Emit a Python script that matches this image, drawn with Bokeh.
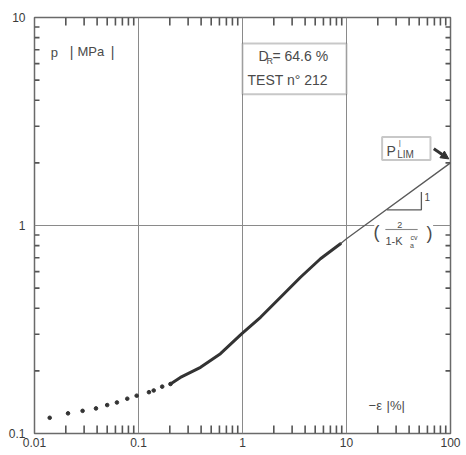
import math
from bokeh.plotting import figure
from bokeh.models import (LogAxis, FixedTicker, CustomJSTickFormatter, Label,
                          BoxAnnotation, Arrow, NormalHead, Range1d)
from bokeh.embed import file_html
from bokeh.resources import INLINE

# ---------------- data ----------------
# measured points (dotted part, small strains)
dot_strain = [0.014, 0.021, 0.029, 0.039, 0.050, 0.062, 0.078, 0.096,
              0.126, 0.140, 0.169, 0.203]
dot_pressure = [0.119, 0.125, 0.1285, 0.132, 0.137, 0.141, 0.147, 0.152,
                0.158, 0.161, 0.168, 0.173]
# continuous measured curve (thick)
curve_strain = [0.203, 0.253, 0.395, 0.614, 0.98, 1.49, 2.32, 3.61, 5.62, 8.75]
curve_pressure = [0.173, 0.186, 0.208, 0.242, 0.301, 0.362, 0.452, 0.564, 0.692, 0.817]
# straight-line extrapolation towards p'_LIM (thin)
limit_strain = [8.75, 10.0, 100.0]
limit_pressure = [0.817, 0.863, 2.0]

x_major = [0.01, 0.1, 1, 10, 100]
y_major = [0.1, 1, 10]
x_minor = [m * 10.0 ** k for k in range(-2, 2) for m in range(2, 10)]
y_minor = [m * 10.0 ** k for k in range(-1, 1) for m in range(2, 10)]

FONT = "Liberation Sans"
TXT = "#4a4a4a"
LINE = "#5a5a5a"
TICK = "#555555"

FRAME_W, FRAME_H = 416, 416
p = figure(width=464, height=452, x_axis_type="log", y_axis_type="log",
           x_range=Range1d(0.01, 100), y_range=Range1d(0.1, 10),
           output_backend="svg", toolbar_location=None,
           min_border_left=34, min_border_right=14, min_border_top=17,
           min_border_bottom=19, background_fill_color="white",
           border_fill_color="white")
p.outline_line_color = "#6a6a6a"
p.outline_line_width = 1.5


# ---------------- axes ----------------
def style(ax, ticks, labels):
    ax.ticker = FixedTicker(ticks=ticks)
    ax.axis_line_color = None
    ax.major_tick_in = 0
    ax.major_tick_out = 0
    ax.minor_tick_in = 0
    ax.minor_tick_out = 0
    if labels:
        ax.formatter = CustomJSTickFormatter(code="return tick.toString();")
        ax.major_label_text_font = FONT
        ax.major_label_text_font_size = "12px"
        ax.major_label_text_color = "#3a3a3a"
    else:
        ax.formatter = CustomJSTickFormatter(code="return '';")
        ax.major_label_text_font_size = "0px"
        ax.major_label_standoff = 0


style(p.xaxis[0], x_major, True)
p.xaxis[0].major_label_standoff = 4
style(p.yaxis[0], y_major, True)
p.yaxis[0].major_label_standoff = 9

top = LogAxis()
style(top, x_major, False)
p.add_layout(top, "above")
right = LogAxis()
style(right, y_major, False)
p.add_layout(right, "right")

p.xgrid.ticker = FixedTicker(ticks=x_major)
p.ygrid.ticker = FixedTicker(ticks=y_major)
p.xgrid.grid_line_color = "#8a8a8a"
p.ygrid.grid_line_color = "#8a8a8a"
p.xgrid.grid_line_width = 1
p.ygrid.grid_line_width = 1

# inward minor ticks drawn as dash markers centred just inside the frame
V_LEN, H_LEN = 8, 5                          # tick lengths in px
cy = 10 ** ((V_LEN / 2) / (FRAME_H / 2))     # half-length as log factor
cx = 10 ** ((H_LEN / 2) / (FRAME_W / 4))
tick_x = x_minor + x_minor + [0.01 * cx] * len(y_minor) + [100.0 / cx] * len(y_minor)
tick_y = ([0.1 * cy] * len(x_minor) + [10.0 / cy] * len(x_minor)
          + y_minor + y_minor)
tick_size = [V_LEN] * (2 * len(x_minor)) + [H_LEN] * (2 * len(y_minor))
tick_angle = [math.pi / 2] * (2 * len(x_minor)) + [0.0] * (2 * len(y_minor))
p.scatter(x=tick_x, y=tick_y, size=tick_size, angle=tick_angle, marker="dash",
          line_color=TICK, line_width=1.6)

# ---------------- data marks ----------------
p.scatter(x=dot_strain, y=dot_pressure, marker="circle", size=3.6,
          fill_color="#333333", line_color="#333333")
p.line(x=curve_strain, y=curve_pressure, line_width=3, line_color="#333333",
       line_cap="round")
p.line(x=limit_strain, y=limit_pressure, line_width=1.3, line_color=LINE)

# slope triangle under the extrapolation line
tri_x = [24.5, 52.5, 52.5]
tri_y = [1.19, 1.19, 1.45]
p.line(x=tri_x, y=tri_y, line_width=1.3, line_color=LINE)


def lab(x, y, text, size, align="left", base="middle", color=TXT, font=FONT):
    p.add_layout(Label(x=x, y=y, text=text, text_font=font,
                       text_font_size=size, text_color=color,
                       text_align=align, text_baseline=base))


lab(59.7, 1.365, "1", "10px", "center")

# fraction label with white background
p.add_layout(BoxAnnotation(left=18.5, right=68, bottom=0.775, top=1.02,
                           fill_color="white", fill_alpha=1, line_color=None))
lab(19.4, 0.929, "(", "18px", "center")
lab(32.5, 1.011, "2", "9px", "center")
p.add_layout(BoxAnnotation(left=23.7, right=48.2, bottom=0.955, top=0.9585,
                           fill_color=TXT, fill_alpha=1, line_color=TXT,
                           line_width=0.6))
lab(23.7, 0.847, "1-K", "11px")
lab(42.7, 0.797, "a", "7px", "center")
lab(41.2, 0.871, "cv", "7px")
lab(62.8, 0.925, ")", "18px", "center")

# D_R box
p.add_layout(BoxAnnotation(left=1, right=10, bottom=4.27, top=7.5,
                           fill_color="white", fill_alpha=1,
                           line_color="#4a4a4a", line_width=2))
lab(1.426, 6.56, "D", "14px")
lab(1.70, 6.21, "R", "9px")
lab(1.94, 6.56, "= 64.6 %", "14px")
lab(1.117, 5.03, "TEST n° 212", "14px")

# p'_LIM box and arrow
p.add_layout(BoxAnnotation(left=22.0, right=64.2, bottom=2.065, top=2.665,
                           fill_color="white", fill_alpha=1,
                           line_color="#4a4a4a", line_width=2))
lab(24.3, 2.28, "P", "14px")
lab(30.7, 2.20, "LIM", "10px")
lab(32.6, 2.51, "|", "8px", "center")
p.add_layout(Arrow(end=NormalHead(size=8, fill_color="#333333",
                                  line_color="#333333"),
                   x_start=69.1, y_start=2.34, x_end=96.3, y_end=2.09,
                   line_width=3, line_color="#333333"))

# axis titles
lab(0.0143, 6.8, "p", "13px")
lab(0.0227, 6.8, "|", "14px", "center")
lab(0.0259, 6.84, "MPa", "13px")
lab(0.0562, 6.8, "|", "14px", "center")
lab(16.3, 0.1364, "−ε", "13px")
lab(24.3, 0.1364, "|%|", "13px")

open("out.html", "w").write(file_html(p, INLINE))
